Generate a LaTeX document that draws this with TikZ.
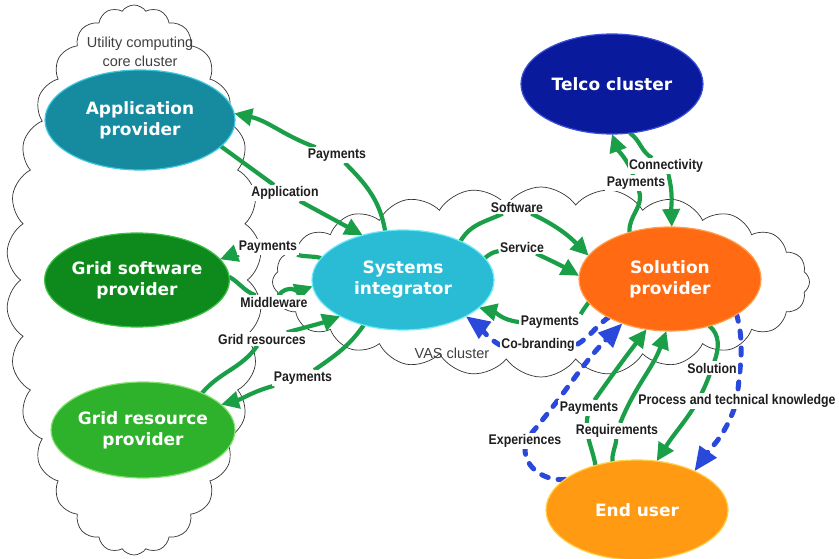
\documentclass[tikz,border=0pt]{standalone}
\usepackage{fontspec}
\usetikzlibrary{shapes.geometric,shapes.symbols,arrows.meta}
\newfontfamily\lblfont[FakeStretch=0.88]{Liberation Sans}
\newfontfamily\cloudfont{Liberation Sans}
\newfontfamily\partyfont{DejaVu Sans}

\definecolor{flowgreen}{HTML}{1A9E48}
\definecolor{fbblue}{HTML}{2A48DA}
\definecolor{apFill}{HTML}{168A9E}\definecolor{apRim}{HTML}{3CC8E0}
\definecolor{gsFill}{HTML}{0E8A1C}\definecolor{gsRim}{HTML}{3CC046}
\definecolor{grFill}{HTML}{2EB22C}\definecolor{grRim}{HTML}{86E070}
\definecolor{siFill}{HTML}{2ABCD4}\definecolor{siRim}{HTML}{6EEAF8}
\definecolor{tcFill}{HTML}{0A1A9C}\definecolor{tcRim}{HTML}{3C50DC}
\definecolor{spFill}{HTML}{FF6A12}\definecolor{spRim}{HTML}{FFA050}
\definecolor{euFill}{HTML}{FF9A12}\definecolor{euRim}{HTML}{FFD048}

\pgfdeclarelayer{clouds}
\pgfdeclarelayer{links}
\pgfsetlayers{clouds,links,main}

\begin{document}
\begin{tikzpicture}
[x=1pt,y=-1pt,
 every node/.style={inner sep=0pt,outer sep=0pt},
 party/.style={ellipse,minimum width=182pt,minimum height=100pt,line width=1.2pt,
   text=white,align=center,font=\partyfont\bfseries\fontsize{17}{21}\selectfont},
 lbl/.style={fill=white,inner sep=1.5pt,text=black!88,font=\lblfont\bfseries\fontsize{14}{15}\selectfont},
 cluster/.style={cloud,draw=black!80,line width=0.7pt,cloud ignores aspect,cloud puff arc=110},
 cltext/.style={text=black!75,align=center,font=\cloudfont\fontsize{14.5}{19}\selectfont},
 flow/.style={draw=flowgreen,line width=4.2pt,-{Triangle[length=18pt,width=17pt]}},
 fb/.style={draw=fbblue,line width=5pt,line cap=round,dash pattern=on 7pt off 10pt,
   -{Triangle[length=24pt,width=20pt]}}]
\useasboundingbox (0,0) rectangle (839,559);

% clusters
\begin{pgfonlayer}{clouds}
\node[cluster,cloud puffs=30,minimum width=255pt,minimum height=550pt] (ucc) at (134,280) {};
\node[cluster,cloud puffs=24,minimum width=537pt,minimum height=190pt] (vas) at (541,282) {};
\end{pgfonlayer}
\node[cltext] (ucclbl) at (140,52) {Utility computing\\core cluster};
\node[cltext] (vaslbl) at (452,353) {VAS cluster};

% parties
\node[party,fill=apFill,draw=apRim,minimum width=190pt] (ap) at (140,120) {Application\\provider};
\node[party,fill=gsFill,draw=gsRim,minimum height=94pt] (gs) at (137,280) {Grid software\\provider};
\node[party,fill=grFill,draw=grRim,minimum height=96pt] (gr) at (143,430) {Grid resource\\provider};
\node[party,fill=siFill,draw=siRim] (si) at (403,280) {Systems\\integrator};
\node[party,fill=tcFill,draw=tcRim] (telco) at (612,84) {Telco cluster};
\node[party,fill=spFill,draw=spRim,minimum height=104pt] (sp) at (670,279) {Solution\\provider};
\node[party,fill=euFill,draw=euRim] (eu) at (637,510) {End user};

% labels
\node[lbl] (pAP)   at (337,155) {Payments};
\node[lbl] (appl)  at (285,193) {Application};
\node[lbl] (pGS)   at (268,247) {Payments};
\node[lbl] (mw)    at (274,302) {Middleware};
\node[lbl] (grres) at (262,339) {Grid resources};
\node[lbl] (pGR)   at (303,378) {Payments};
\node[lbl] (sw)    at (517,207) {Software};
\node[lbl] (svc)   at (522,247) {Service};
\node[lbl] (pSI)   at (550,322) {Payments};
\node[lbl] (cobr)  at (538,345) {Co-branding};
\node[lbl] (conn)  at (666,166) {Connectivity};
\node[lbl] (pTC)   at (636,183) {Payments};
\node[lbl] (pSP)   at (589,408) {Payments};
\node[lbl] (req)   at (617,431) {Requirements};
\node[lbl] (sol)   at (712,368) {Solution};
\node[lbl] (ptk)   at (737,401) {Process and technical knowledge};
\node[lbl] (exp)   at (525,441) {Experiences};

% flows
\begin{pgfonlayer}{links}
\draw[flow] (si.110) to[out=100,in=-45] (pAP) to[out=160,in=-12] (ap.4);
\draw[flow] (ap.-18) -- (appl) -- (si.132);
\draw[flow] (si.165) to[out=165,in=-15] (pGS) to[out=195,in=20] (gs.14);
\draw[flow] (gs.2) to[out=-30,in=160] (mw) to[out=55,in=200] (si.184);
\draw[flow] (gr.32) to[out=50,in=235] (grres) to[out=15,in=200] (si.210);
\draw[flow] (si.229) to[out=235,in=35] (pGR) to[out=195,in=15] (gr.18);
\draw[flow] (si.34) to[out=60,in=205] (sw) to[out=-25,in=135] (sp.164);
\draw[flow] (si.15) to[out=40,in=190] (svc) to[out=-25,in=150] (sp.178);
\draw[flow] (sp.196) to[out=235,in=60] (pSI.north east) (pSI.west) to[out=175,in=-15] (si.-20);
\draw[fb] (sp.212) to[out=215,in=30] (cobr.east) (cobr.west) to[out=150,in=-36] (si.-30);
\draw[flow] (sp.131) to[out=95,in=-70] (pTC) to[out=110,in=-70] (telco.-90);
\draw[flow] (telco.-70) to[out=-35,in=150] (conn) to[out=-75,in=92] (sp.88);
\draw[flow] (eu.133) to[out=100,in=-100] (pSP) to[out=55,in=233] (sp.245);
\draw[flow] (eu.117) to[out=95,in=-95] (req) to[out=68,in=250] (sp.266);
\draw[flow] (sp.-50) to[out=-40,in=70] (sol) to[out=-110,in=58] (eu.68);
\draw[fb] (eu.157) to[out=185,in=-90] (exp) to[out=50,in=225] (sp.223);
\draw[fb] (sp.-28) to[out=-75,in=85] (ptk) to[out=-110,in=55] (eu.34);
\end{pgfonlayer}
\end{tikzpicture}
\end{document}
